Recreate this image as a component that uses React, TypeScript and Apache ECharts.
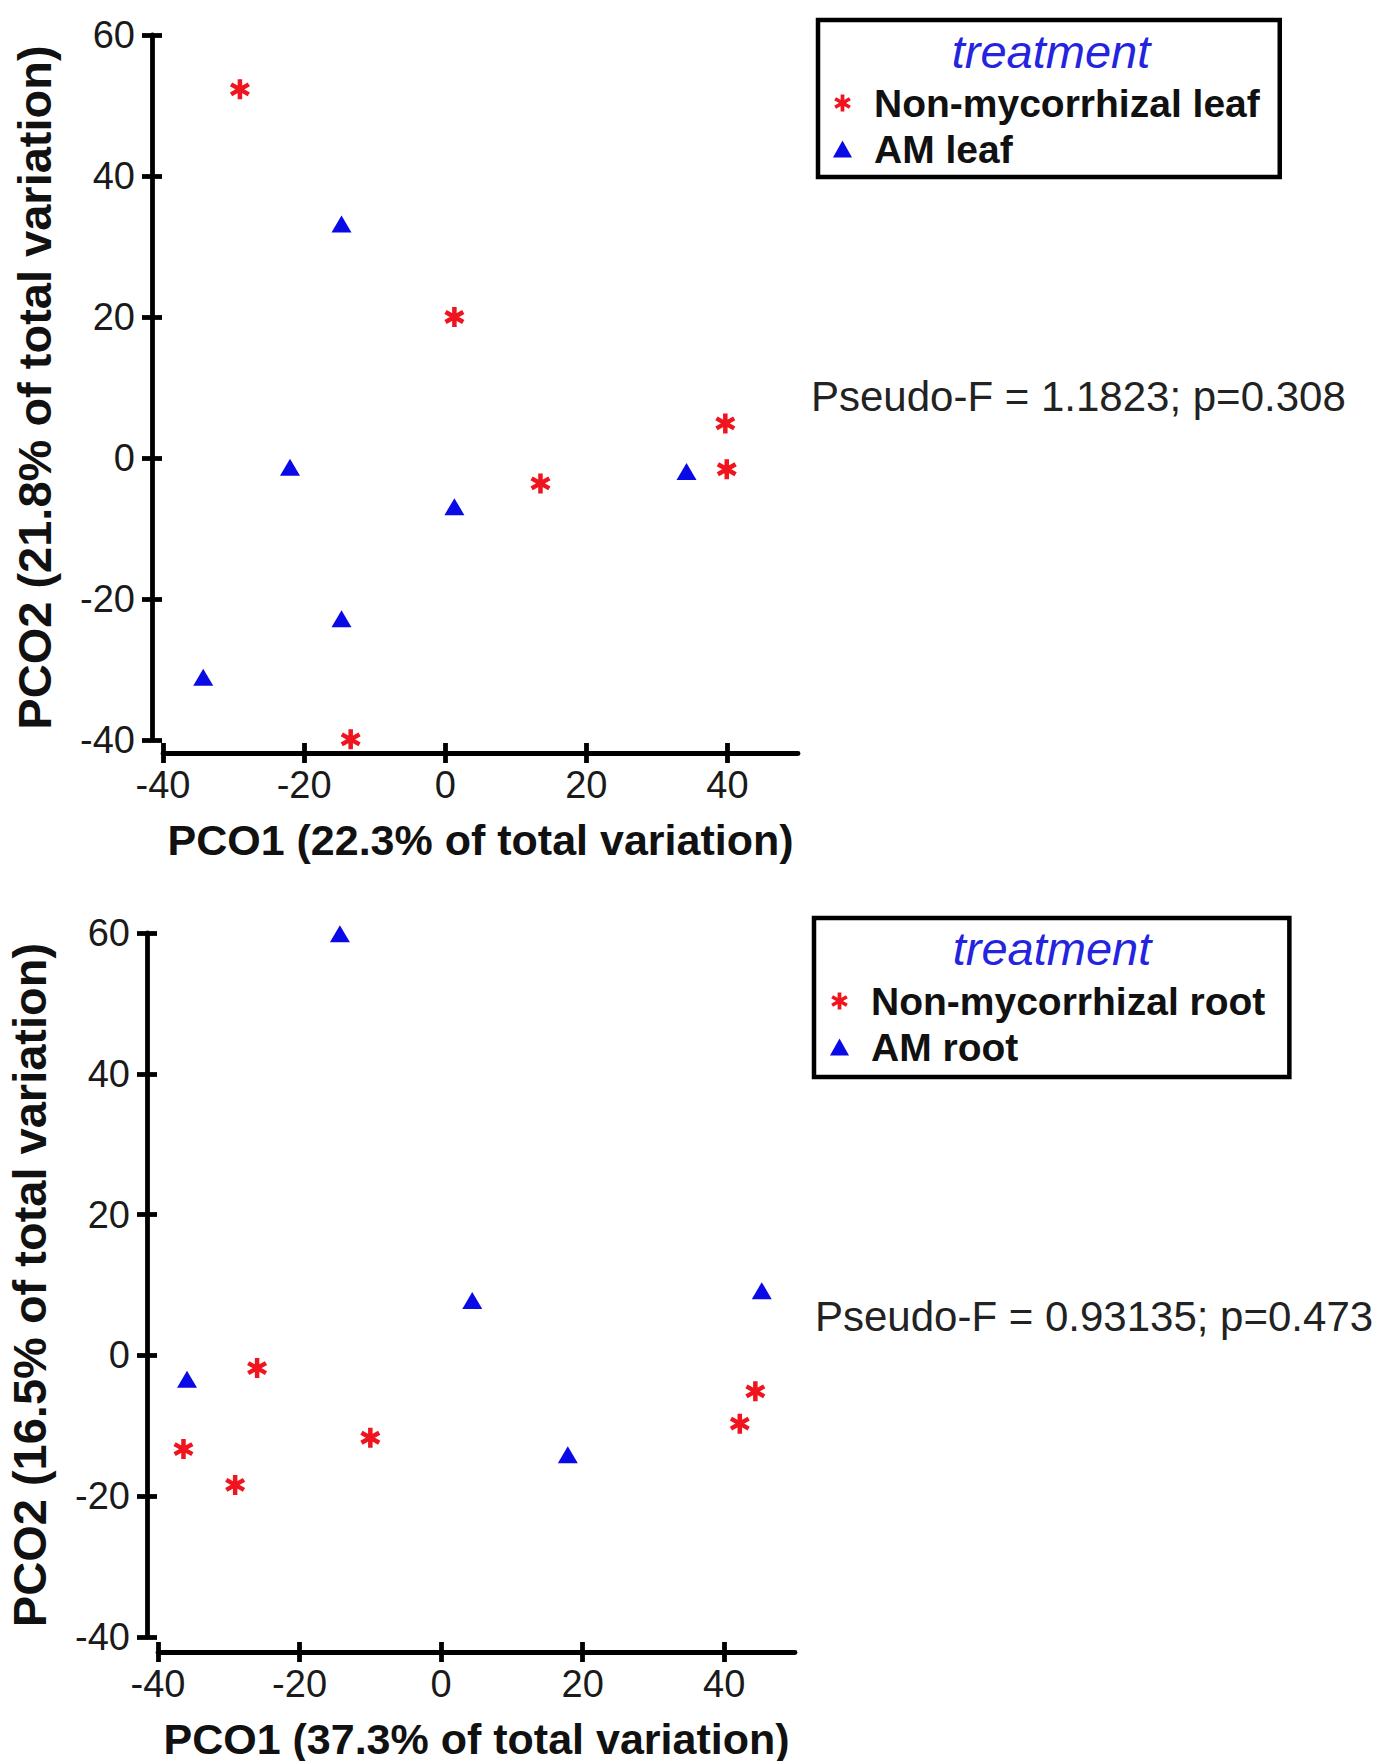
import React, { useEffect, useRef } from "react";
import * as echarts from "echarts";

// ---- data ----
const xTicks = [-40, -20, 0, 20, 40];
const yTicks = [-40, -20, 0, 20, 40, 60];

const leafSeriesNames = ["Non-mycorrhizal leaf", "AM leaf"];
const rootSeriesNames = ["Non-mycorrhizal root", "AM root"];

const leafNonMycX = [-29.1, 1.3, 39.7, 39.9, 13.5, -13.4];
const leafNonMycY = [52.3, 20.0, 4.9, -1.6, -3.6, -39.9];
const leafAMX = [-14.7, -22.0, 1.3, 34.2, -14.7, -34.3];
const leafAMY = [33.2, -1.3, -6.9, -1.9, -22.8, -31.1];

const rootNonMycX = [-26.0, -36.4, -29.1, -10.0, 42.2, 44.4];
const rootNonMycY = [-1.8, -13.3, -18.4, -11.7, -9.7, -5.1];
const rootAMX = [-14.3, 4.4, 45.3, -35.9, 17.9];
const rootAMY = [59.9, 7.8, 9.2, -3.4, -14.1];

const leafXName = "PCO1 (22.3% of total variation)";
const leafYName = "PCO2 (21.8% of total variation)";
const rootXName = "PCO1 (37.3% of total variation)";
const rootYName = "PCO2 (16.5% of total variation)";

const leafStat = "Pseudo-F = 1.1823; p=0.308";
const rootStat = "Pseudo-F = 0.93135; p=0.473";
const legendTitle = "treatment";

// ---- styles ----
const FONT = 'Arial, "Liberation Sans", sans-serif';
const RED = "#f0141e";
const BLUE = "#0a0ae6";
const STAR =
  "path://M39 0L61 0L61 100L39 100Z M1.2 34.53L12.2 15.47L98.8 65.47L87.8 84.53Z M12.2 84.53L1.2 65.47L87.8 15.47L98.8 34.53Z";

const zip = (xs: number[], ys: number[]) => xs.map((x, i) => [x, ys[i]]);

function axes(gridIndex: number, xOff: number, yOff: number, xName: string, yName: string) {
  const lineStyle = { color: "#000", width: 4.8 };
  const labelStyle = { fontSize: 38, color: "#1a1a1a", fontFamily: FONT };
  const nameStyle = { fontWeight: "bold", color: "#111", fontFamily: FONT };
  const xBase = { type: "value", gridIndex, position: "bottom", min: -40, max: 50, interval: 20, offset: xOff, splitLine: { show: false } };
  const yBase = { type: "value", gridIndex, position: "left", min: -40, max: 60, interval: 20, offset: yOff, splitLine: { show: false } };
  const x = [
    {
      ...xBase,
      axisLine: { show: true, onZero: false, lineStyle },
      axisTick: { show: true, inside: false, length: 10, customValues: xTicks, lineStyle },
      axisLabel: { customValues: xTicks, margin: 13, ...labelStyle },
      name: xName,
      nameLocation: "middle",
      nameGap: 65,
      nameTextStyle: { ...nameStyle, fontSize: 43 },
    },
    {
      ...xBase,
      axisLine: { show: false, onZero: false },
      axisTick: { show: true, inside: true, length: 10, customValues: xTicks, lineStyle },
      axisLabel: { show: false },
    },
  ];
  const y = [
    {
      ...yBase,
      axisLine: { show: true, onZero: false, lineStyle },
      axisTick: { show: true, inside: false, length: 10, customValues: yTicks, lineStyle },
      axisLabel: { customValues: yTicks, margin: 17, ...labelStyle },
      name: yName,
      nameLocation: "middle",
      nameGap: 94,
      nameRotate: 90,
      nameTextStyle: { ...nameStyle, fontSize: 47 },
    },
    {
      ...yBase,
      axisLine: { show: false, onZero: false },
      axisTick: { show: true, inside: true, length: 10, customValues: yTicks, lineStyle },
      axisLabel: { show: false },
    },
  ];
  return { x, y };
}

function legend(names: string[], left: number, top: number, padding: number[]) {
  return {
    orient: "vertical",
    left,
    top,
    padding,
    borderColor: "#000",
    borderWidth: 4.5,
    itemWidth: 19,
    itemHeight: 17,
    itemGap: 2,
    data: [
      { name: names[0], icon: STAR },
      { name: names[1], icon: "triangle" },
    ],
    textStyle: {
      fontSize: 39,
      fontWeight: "bold",
      color: "#111",
      fontFamily: FONT,
      lineHeight: 44,
      padding: [0, 0, 0, 17],
    },
  };
}

export default function App() {
  const ref = useRef<HTMLDivElement>(null);

  useEffect(() => {
    document.body.style.margin = "0";
    document.body.style.overflow = "hidden";
    if (!ref.current) return;
    const chart = echarts.init(ref.current, null, { renderer: "svg" });

    const a0 = axes(0, 13, 11, leafXName, leafYName);
    const a1 = axes(1, 15, 11, rootXName, rootYName);

    const scatter = (name: string, xi: number, data: number[][], star: boolean) => ({
      name,
      type: "scatter",
      xAxisIndex: xi,
      yAxisIndex: xi,
      data,
      symbol: star ? STAR : "triangle",
      symbolSize: star ? [20, 20] : [20, 17],
      itemStyle: { color: star ? RED : BLUE, opacity: 1 },
      emphasis: { disabled: true },
    });

    const titleText = (x: number, y: number) => ({
      type: "text",
      x,
      y,
      z: 100,
      style: { text: legendTitle, align: "center", verticalAlign: "middle", fontSize: 47, fontStyle: "italic", fontFamily: FONT, fill: "#2424e0" },
    });

    chart.setOption({
      animation: false,
      backgroundColor: "#fff",
      grid: [
        { left: 163, top: 35, width: 635, height: 705 },
        { left: 158, top: 933, width: 637, height: 704 },
      ],
      xAxis: [...a0.x, ...a1.x],
      yAxis: [...a0.y, ...a1.y],
      legend: [
        legend(leafSeriesNames, 818, 20, [61, 20, 6, 15]),
        legend(rootSeriesNames, 814, 918, [61, 24, 8, 16]),
      ],
      graphic: [
        titleText(1051, 51),
        titleText(1052, 948),
        {
          type: "text",
          x: 811,
          y: 396,
          z: 100,
          style: { text: leafStat, align: "left", verticalAlign: "middle", fontSize: 42, fontFamily: FONT, fill: "#222" },
        },
        {
          type: "text",
          x: 815,
          y: 1316,
          z: 100,
          style: { text: rootStat, align: "left", verticalAlign: "middle", fontSize: 42, fontFamily: FONT, fill: "#222" },
        },
      ],
      series: [
        scatter(leafSeriesNames[0], 0, zip(leafNonMycX, leafNonMycY), true),
        scatter(leafSeriesNames[1], 0, zip(leafAMX, leafAMY), false),
        scatter(rootSeriesNames[0], 2, zip(rootNonMycX, rootNonMycY), true),
        scatter(rootSeriesNames[1], 2, zip(rootAMX, rootAMY), false),
      ],
    });

    return () => chart.dispose();
  }, []);

  return <div ref={ref} style={{ width: 1379, height: 1761 }} />;
}
